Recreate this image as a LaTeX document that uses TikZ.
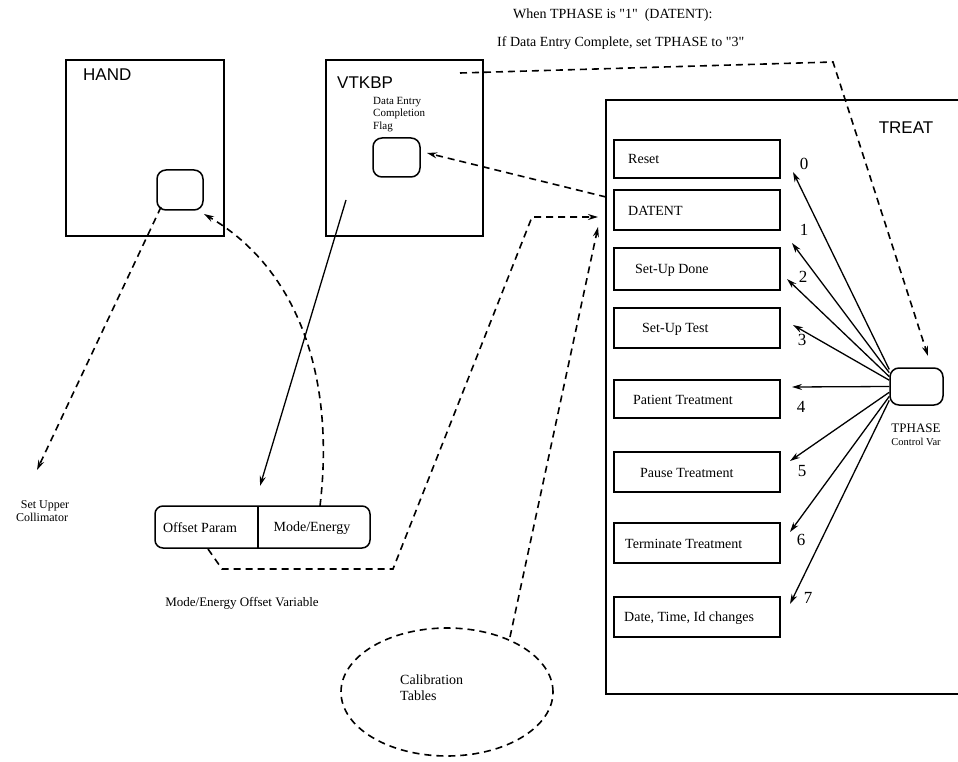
\documentclass[tikz,border=0pt]{standalone}
\usepackage{fontspec}
\setmainfont{Liberation Serif}
\newfontfamily\titlefont{Liberation Sans}
\newfontfamily\quotefont{Liberation Serif}[Ligatures=TeXOff]
\usetikzlibrary{arrows.meta,shapes.geometric,calc}
\tikzset{
 frame/.style={draw, line width=1.5pt, inner sep=0pt},
 stbox/.style={draw, line width=1.4pt, minimum width=166pt, minimum height=40pt, inner sep=0pt},
 rbox/.style={draw, line width=1.5pt, rounded corners=9pt, inner sep=0pt},
 lbl/.style={font=\fontsize{14}{16}\selectfont, inner sep=0pt},
 numlbl/.style={font=\fontsize{17}{18}\selectfont, inner sep=0pt},
 smlbl/.style={font=\fontsize{12}{13}\selectfont, inner sep=0pt},
 ttl/.style={font=\titlefont\fontsize{17}{19}\selectfont, inner sep=0pt},
 dline/.style={line width=1.6pt, dash pattern=on 7pt off 5pt},
 sline/.style={line width=1.3pt},
 arr/.style={-{Stealth[length=10pt,width=6pt]}},
}
\begin{document}
\begin{tikzpicture}[x=1pt,y=-1pt]
\useasboundingbox (0,0) rectangle (958,762);

% top note
\node[lbl, anchor=west, font=\quotefont\fontsize{14}{16}\selectfont] (note1) at (513,15) {When TPHASE is "1"\ \ (DATENT):};
\node[lbl, anchor=west, font=\quotefont\fontsize{14}{16}\selectfont] (note2) at (497,43) {If Data Entry Complete, set TPHASE to "3"};

% HAND
\node[frame, minimum width=158pt, minimum height=176pt] (hand) at (145,148) {};
\node[ttl, anchor=west] (handT) at (83,75) {HAND};
\node[rbox, minimum width=46pt, minimum height=40pt] (handvar) at (180,190) {};

% VTKBP
\node[frame, minimum width=157pt, minimum height=176pt] (vtkbp) at (404.5,148) {};
\node[ttl, anchor=west] (vtkbpT) at (337,83) {VTKBP};
\node[font=\fontsize{11}{12.5}\selectfont, align=left, anchor=north west, inner sep=0pt] (flagT) at (373,97) {Data Entry\\Completion\\Flag};
\node[rbox, minimum width=47pt, minimum height=39pt] (flag) at (396.5,157.5) {};

% TREAT
\draw[line width=1.5pt] (958,100) -- (606,100) -- (606,694) -- (958,694);
\node[ttl] (treatT) at (906,128) {TREAT};

\node[stbox, minimum height=38pt] (reset) at (697,159) {};
\node[stbox] (datent) at (697,210) {};
\node[stbox, minimum height=42pt] (sudone) at (697,269) {};
\node[stbox] (sutest) at (697,328) {};
\node[stbox, minimum height=38pt] (patient) at (697,399) {};
\node[stbox] (pause) at (697,472) {};
\node[stbox] (term) at (697,543) {};
\node[stbox] (date) at (697,617) {};

\node[lbl, anchor=west] (resetL) at (628,159) {Reset};
\node[lbl, anchor=west] (datentL) at (628,211) {DATENT};
\node[lbl, anchor=west] (sudoneL) at (635,270) {Set-Up Done};
\node[lbl, anchor=west] (sutestL) at (642,329) {Set-Up Test};
\node[lbl, anchor=west] (patientL) at (633,400) {Patient Treatment};
\node[lbl, anchor=west] (pauseL) at (640,473) {Pause Treatment};
\node[lbl, anchor=west] (termL) at (625,544) {Terminate Treatment};
\node[lbl, anchor=west] (dateL) at (624,618) {Date, Time, Id changes};

% TPHASE
\node[rbox, minimum width=53pt, minimum height=37pt] (tphase) at (916.5,386.5) {};
\node[font=\fontsize{13}{14}\selectfont, inner sep=0pt] (tphaseL) at (916,428) {TPHASE};
\node[font=\fontsize{10.5}{11}\selectfont, inner sep=0pt] (tphaseC) at (916,442) {Control Var};

% phase arrows
\coordinate (t0) at (793,172);
\coordinate (t1) at (792,243);
\coordinate (t2) at (787,279);
\coordinate (t3) at (793,325);
\coordinate (t4) at (792,387);
\coordinate (t5) at (790,461);
\coordinate (t6) at (790,532);
\coordinate (t7) at (790,604);
\draw[sline,arr] (tphase.148) -- (t0);
\draw[sline,arr] (tphase.153) -- (t1);
\draw[sline,arr] (tphase.160) -- (t2);
\draw[sline,arr] (tphase.167) -- (t3);
\draw[sline,arr] (tphase.180) -- (t4);
\draw[sline,arr] (tphase.192) -- (t5);
\draw[sline,arr] (tphase.200) -- (t6);
\draw[sline,arr] (tphase.207) -- (t7);
\node[numlbl] (n0) at (804,164) {0};
\node[numlbl] (n1) at (804,230) {1};
\node[numlbl] (n2) at (803,277) {2};
\node[numlbl] (n3) at (802,340) {3};
\node[numlbl] (n4) at (801,407) {4};
\node[numlbl] (n5) at (802,471) {5};
\node[numlbl] (n6) at (801,540) {6};
\node[numlbl] (n7) at (808,598) {7};

% top dashed connector VTKBP -> TPHASE
\coordinate (vs) at (460,73);
\coordinate (vc) at (833,62);
\coordinate (tpTop) at (928,356);
\draw[dline,arr] (vs) -- (vc) -- (tpTop);

% DATENT -> flag
\coordinate (dStart) at (606,197);
\coordinate (flagTip) at (427,153);
\draw[dline,arr] (dStart) -- (flagTip);

% Offset box
\node[rbox, rounded corners=8pt, minimum width=215pt, minimum height=42pt] (offbox) at (262.5,527) {};
\draw[line width=1.3pt] (258,506) -- (258,548);
\node[lbl] (offL) at (200,528) {Offset Param};
\node[lbl] (modeL) at (312,528) {Mode/Energy};
\node[lbl, font=\fontsize{13}{15}\selectfont] (offVar) at (242,603) {Mode/Energy Offset Variable};

% Offset -> DATENT route
\coordinate (o1) at (208,549);
\coordinate (o2) at (222,569);
\coordinate (o3) at (393,569);
\coordinate (o4) at (532,217);
\coordinate (o5) at (598,217);
\draw[dline,arr] (o1) -- (o2) -- (o3) -- (o4) -- (o5);

% Calibration tables
\node[ellipse, draw, dline, minimum width=212pt, minimum height=128pt, inner sep=0pt] (calib) at (447,692) {};
\node[lbl, align=left, anchor=west] (calibL) at (400,688) {Calibration\\Tables};
\coordinate (cStart) at (510,637);
\coordinate (cTip) at (598,227);
\draw[dline,arr] (cStart) -- (cTip);

% HAND -> Set Upper Collimator
\coordinate (hStart) at (161,207);
\coordinate (hTip) at (37,470);
\draw[dline,arr] (hStart) -- (hTip);
\node[smlbl, align=center] (setUpper) at (42,511) {\ \ Set Upper\\Collimator};

% VTKBP -> Offset box (solid)
\coordinate (vStart) at (346,200);
\coordinate (vTip) at (260,486);
\draw[sline,arr] (vStart) -- (vTip);

% Mode/Energy -> HAND var (dashed curve)
\coordinate (mStart) at (320,506);
\coordinate (mTip) at (204,214);
\draw[dline,arr] (mStart) .. controls (335,380) and (300,270) .. (mTip);

\end{tikzpicture}
\end{document}
